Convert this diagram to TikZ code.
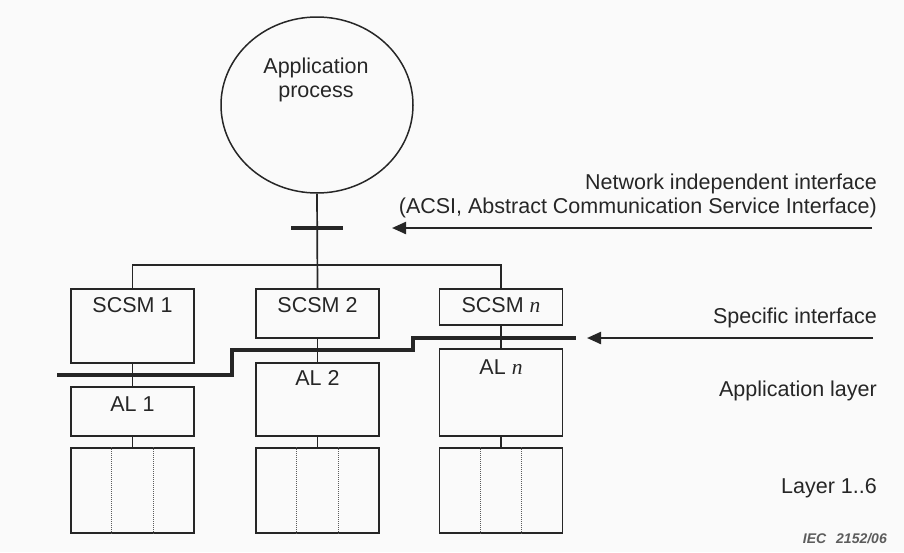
\documentclass[tikz,border=0pt]{standalone}
\usepackage{fontspec}
\setmainfont{Liberation Sans}
\newfontfamily\serifit{Liberation Serif}
\usetikzlibrary{shapes.geometric,arrows.meta,calc}
\definecolor{ink}{RGB}{38,38,38}
\definecolor{bg}{RGB}{250,250,250}
\definecolor{divc}{RGB}{90,90,90}
\newcommand{\nvar}{{\serifit\itshape n}}
\begin{document}
\begin{tikzpicture}[x=1pt,y=-1pt,
  box/.style={draw=ink, line width=1.7pt, minimum width=123pt, inner sep=0pt},
  txt/.style={font=\fontsize{21.5}{25}\selectfont, text=ink, inner sep=0pt},
  conn/.style={draw=ink, line width=1.7pt},
  interface/.style={draw=ink, line width=4.5pt},
  pointer/.style={draw=ink, line width=2.2pt, -{Triangle[length=14pt,width=12pt]}},
  divider/.style={draw=divc, line width=1pt, densely dotted}]
\fill[bg] (0,0) rectangle (904,552);
\useasboundingbox (0,0) rectangle (904,552);

% application process
\node[draw=ink, line width=1.5pt, ellipse, minimum width=192pt, minimum height=176pt, inner sep=0pt] (app) at (317,105) {};
\node[txt, anchor=base] (appt1) at (316,73) {Application};
\node[txt, anchor=base] (appt2) at (316,97) {process};

% SCSM boxes
\node[box, minimum height=74pt] (s1) at (132.5,326) {};
\node[box, minimum height=49pt] (s2) at (317.5,313.5) {};
\node[box, minimum height=36pt] (sn) at (501,307) {};
\node[txt, anchor=base] (s1t) at (132.5,312) {SCSM 1};
\node[txt, anchor=base] (s2t) at (317.5,312) {SCSM 2};
\node[txt, anchor=base] (snt) at (501,312) {SCSM \nvar};

% AL boxes
\node[box, minimum height=49pt] (a1) at (132.5,411.5) {};
\node[box, minimum height=73pt] (a2) at (317.5,399.5) {};
\node[box, minimum height=87pt] (an) at (501,392.5) {};
\node[txt, anchor=base] (a1t) at (132.5,411) {AL 1};
\node[txt, anchor=base] (a2t) at (317.5,385) {AL 2};
\node[txt, anchor=base] (ant) at (501,374) {AL \nvar};

% Layer 1..6 boxes
\node[box, minimum height=85pt] (l1) at (132.5,490.5) {};
\node[box, minimum height=85pt] (l2) at (317.5,490.5) {};
\node[box, minimum height=85pt] (ln) at (501,490.5) {};
\foreach \b in {l1,l2,ln}{
  \foreach \f in {1/3,2/3}{
    \draw[divider] ($(\b.north west)!\f!(\b.north east)$) -- ($(\b.south west)!\f!(\b.south east)$);
  }
}

% connectors
\coordinate (bj) at (317.5,265);
\draw[conn] (app.south) -- (s2.north);
\draw[conn] (s1.north) |- (bj) -| (sn.north);
\draw[conn] (s1.south) -- (a1.north);
\draw[conn] (s2.south) -- (a2.north);
\draw[conn] (sn.south) -- (an.north);
\draw[conn] (a1.south) -- (l1.north);
\draw[conn] (a2.south) -- (l2.north);
\draw[conn] (an.south) -- (ln.north);

% network independent interface bar
\draw[interface] (291,228) -- (343,228);
% specific interface staircase
\draw[interface] (57,375) -- (232,375) -- (232,350) -- (413,350) -- (413,338) -- (576,338);

% pointers
\coordinate (p1s) at (872,228);
\coordinate (p1e) at (392,228);
\coordinate (p2s) at (873,338);
\coordinate (p2e) at (587,338);
\draw[pointer] (p1s) -- (p1e);
\draw[pointer] (p2s) -- (p2e);

% right-hand labels
\node[txt, anchor=base east] (r1) at (877,189) {Network independent interface};
\node[txt, anchor=base east] (r2) at (877,213) {(ACSI, Abstract Communication Service Interface)};
\node[txt, anchor=base east] (r3) at (877,323) {Specific interface};
\node[txt, anchor=base east] (r4) at (877,396) {Application layer};
\node[txt, anchor=base east] (r5) at (877,493) {Layer 1..6};
\node[anchor=base east, inner sep=0pt, text=ink!75, font=\fontsize{14}{16}\selectfont\bfseries\itshape] (iec) at (887,543) {IEC\hspace{10pt}2152/06};
\end{tikzpicture}
\end{document}
